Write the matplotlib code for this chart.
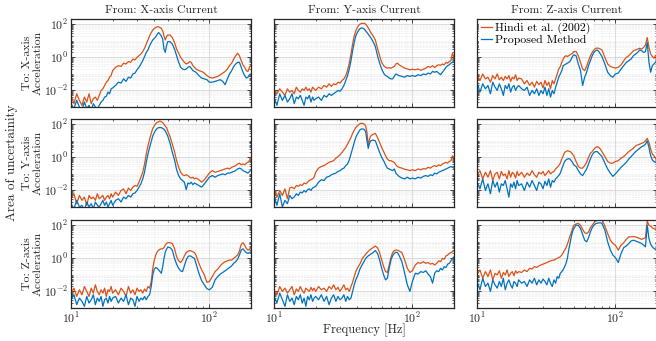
import numpy as np
import matplotlib

matplotlib.use("Agg")
import matplotlib.pyplot as plt
from matplotlib.ticker import FixedLocator, LogLocator, NullFormatter, LogFormatterMathtext

plt.rcParams["font.family"] = ["cmr10", "DejaVu Serif"]
plt.rcParams["mathtext.fontset"] = "cm"
plt.rcParams["axes.formatter.use_mathtext"] = True

ORANGE = "#D95319"
BLUE = "#0072BD"

# frequency grid [Hz]
freq_hz = [10, 10.5, 11, 11.5, 12, 12.5, 13, 13.5, 14, 14.5, 15, 15.5, 16, 16.5, 17, 17.5, 18, 18.5, 19, 19.5, 20,
           21, 22, 23, 24, 25, 26, 27, 28, 29, 30, 31, 32, 33, 34, 35, 36, 37, 38, 39, 40,
           41, 42, 43, 44, 45, 46, 47, 48, 49, 50,
           52, 54, 56, 58, 60, 62, 64, 66, 68, 70, 72, 74, 76, 78, 80,
           84, 88, 92, 96, 100,
           105, 110, 115, 120, 125, 130, 135, 140, 145, 150, 155, 160, 165, 170, 175, 180, 185, 190, 195, 200]

# log10 of the magnitude
# row: To X-axis acceleration
hindi_xx = [-2.3, -2.8, -2.2, -2.6, -2.9, -2.4, -2.7, -2.2, -2.8, -2.5, -2.4, -2.6, -2.3, -2.0, -1.9, -1.7, -1.5, -1.4, -1.2, -1.1, -0.8,
            -0.6, -0.5, -0.55, -0.35, -0.4, -0.25, -0.3, -0.1, -0.15, 0.0,
            0.1, 0.2, 0.35, 0.55, 0.8, 1.05, 1.3, 1.5, 1.65, 1.75,
            1.8, 1.85, 1.85, 1.8, 1.75, 1.6, 1.3, 1.05, 1.25, 1.35,
            1.35, 1.2, 0.9, 0.5, 0.25, 0.0, -0.15, -0.3, -0.4, -0.35, -0.25, -0.3, -0.5, -0.6, -0.7,
            -0.8, -0.85, -0.95, -1.1, -1.2,
            -1.25, -1.2, -1.15, -1.05, -0.95, -0.85, -0.7, -0.5, -0.35, -0.1, 0.1, 0.25, 0.1, -0.2, -0.45, -0.6, -0.8, -0.85, -0.6, -0.45]
proposed_xx = [-2.8, -3.1, -2.6, -3.0, -3.2, -2.7, -3.1, -2.9, -3.2, -2.8, -3.0, -3.1, -2.9, -2.7, -2.6, -2.4, -2.35, -2.1, -2.2, -1.9, -1.85,
               -1.7, -1.5, -1.55, -1.3, -1.45, -1.2, -1.25, -1.0, -0.95, -0.75,
               -0.6, -0.4, -0.2, 0.05, 0.3, 0.45, 0.7, 0.9, 1.05, 1.15,
               1.25, 1.4, 1.5, 1.4, 1.3, 1.1, 0.5, 0.3, 0.7, 0.95,
               0.95, 0.8, 0.5, 0.1, -0.3, -0.6, -0.7, -0.75, -0.7, -0.6, -0.55, -0.65, -0.8, -0.85, -0.9,
               -1.1, -1.25, -1.3, -1.35, -1.5,
               -1.5, -1.45, -1.4, -1.35, -1.45, -1.65, -1.3, -1.0, -0.8, -0.55, -0.4, -0.3, -0.3, -0.6, -0.9, -1.1, -1.25, -1.2, -1.05, -1.0]
hindi_yx = [-2.0, -2.2, -1.9, -2.1, -2.3, -1.9, -2.1, -2.0, -2.2, -1.8, -2.0, -2.1, -1.9, -2.0, -1.8, -2.0, -1.9, -2.1, -1.8, -1.9, -2.0,
            -1.8, -1.9, -1.7, -1.8, -1.6, -1.75, -1.6, -1.65, -1.5, -1.55,
            -1.4, -1.3, -1.1, -0.8, -0.35, 0.2, 0.8, 1.3, 1.6, 1.8,
            1.95, 2.02, 2.05, 2.06, 2.06, 2.0, 1.9, 1.78, 1.65, 1.5,
            1.3, 1.05, 0.55, 0.1, -0.3, -0.5, -0.6, -0.65, -0.62, -0.65, -0.6, -0.55, -0.4, -0.35, -0.45,
            -0.55, -0.65, -0.7, -0.75, -0.72,
            -0.75, -0.7, -0.78, -0.72, -0.65, -0.55, -0.6, -0.5, -0.62, -0.5, -0.45, -0.48, -0.4, -0.45, -0.3, -0.35, -0.25, -0.2, 0.25, 0.0]
proposed_yx = [-2.4, -2.9, -2.2, -2.6, -2.3, -2.7, -2.5, -2.2, -2.8, -2.4, -2.5, -2.3, -2.6, -2.9, -2.4, -2.5, -2.3, -2.7, -2.4, -2.6, -2.5,
               -2.4, -2.6, -2.3, -2.4, -2.2, -2.3, -2.2, -2.1, -2.0, -2.05,
               -1.9, -1.7, -1.4, -1.1, -0.7, -0.2, 0.4, 0.9, 1.3, 1.5,
               1.65, 1.75, 1.78, 1.76, 1.7, 1.6, 1.5, 1.4, 1.3, 1.2,
               0.95, 0.66, 0.1, -0.35, -0.7, -0.95, -1.1, -1.15, -1.25, -1.3, -1.3, -1.15, -1.0, -1.05, -1.1,
               -1.15, -1.2, -1.1, -1.15, -1.1,
               -1.15, -1.05, -1.1, -1.0, -1.05, -0.95, -1.0, -0.85, -0.9, -0.85, -0.95, -1.05, -0.9, -0.75, -0.6, -0.5, -0.45, -0.35, -0.3, -0.25]
hindi_zx = [-1.1, -1.4, -1.0, -1.3, -1.2, -1.5, -1.1, -1.3, -1.0, -1.35, -1.2, -1.4, -1.15, -1.3, -1.1, -1.45, -1.2, -1.3, -1.05, -1.4, -1.25,
            -1.3, -1.6, -1.4, -1.7, -1.5, -1.8, -1.45, -1.65, -1.5, -1.85,
            -1.4, -1.7, -1.5, -1.9, -1.4, -1.6, -1.3, -1.0, -0.7, -0.55,
            -0.3, -0.1, 0.05, 0.1, 0.05, 0.1, 0.15, 0.2, 0.25, 0.35,
            0.36, 0.1, -0.3, -0.7, -0.8, -0.55, -0.2, 0.1, 0.3, 0.45, 0.55, 0.56, 0.55, 0.5, 0.45,
            0.0, -0.4, -0.55, -0.6, -0.65,
            -0.6, -0.45, -0.2, 0.0, 0.1, 0.25, 0.4, 0.45, 0.5, 0.55, 0.5, 0.6, 0.75, 1.2, 0.6, 0.2, 0.05, -0.05, 0.1, 0.2]
proposed_zx = [-1.5, -2.1, -1.6, -1.9, -1.7, -2.2, -1.5, -1.8, -2.0, -1.6, -1.9, -2.3, -1.7, -1.9, -1.6, -2.1, -1.8, -1.7, -2.0, -1.8, -1.7,
               -1.9, -2.0, -1.8, -2.3, -2.0, -2.2, -1.9, -2.3, -2.0, -2.2,
               -1.8, -2.3, -1.9, -2.4, -2.0, -2.2, -1.8, -1.5, -1.2, -1.0,
               -0.8, -0.5, -0.45, -0.4, -0.35, -0.3, -0.25, -0.1, 0.05, 0.15,
               0.1, -0.4, -0.8, -1.7, -1.2, -0.9, -0.5, -0.2, 0.1, 0.3, 0.4, 0.45, 0.35, 0.2, 0.05,
               -0.4, -0.9, -1.1, -1.2, -1.0,
               -0.95, -0.7, -0.5, -0.3, -0.2, -0.1, 0.1, 0.2, 0.3, 0.45, 0.4, 0.3, 0.35, 0.9, -0.3, -0.9, -0.5, -0.4, -0.3, -0.2]

# row: To Y-axis acceleration
hindi_xy = [-2.5, -2.2, -2.8, -2.3, -2.6, -2.4, -2.9, -2.3, -2.5, -2.4, -2.6, -2.2, -2.5, -2.4, -2.3, -2.6, -2.4, -2.3, -2.5, -2.2, -2.4,
            -2.1, -2.3, -2.0, -1.9, -2.2, -1.85, -2.0, -1.8, -1.7, -1.75,
            -1.5, -1.2, -0.9, -0.4, 0.2, 0.7, 1.1, 1.45, 1.75, 1.9,
            2.05, 2.12, 2.15, 2.2, 2.15, 2.1, 2.0, 1.9, 1.8, 1.6,
            1.25, 0.8, 0.35, -0.2, -0.6, -0.9, -1.05, -1.1, -1.05, -1.1, -1.2, -1.25, -1.2, -1.3, -1.25,
            -1.35, -1.5, -1.35, -1.15, -0.95,
            -0.8, -0.9, -0.85, -0.8, -0.75, -0.7, -0.65, -0.7, -0.6, -0.55, -0.5, -0.4, -0.35, -0.45, -0.4, -0.45, -0.35, -0.3, -0.2, -0.05]
proposed_xy = [-2.8, -3.1, -2.6, -3.0, -2.9, -3.2, -2.7, -3.0, -2.8, -3.1, -2.7, -2.9, -3.0, -2.8, -2.6, -2.9, -2.7, -3.0, -2.8, -2.6, -2.9,
               -2.6, -2.5, -2.7, -2.4, -2.5, -2.3, -2.4, -2.2, -2.15, -2.0,
               -1.8, -1.6, -1.3, -0.9, -0.3, 0.2, 0.6, 0.95, 1.3, 1.5,
               1.65, 1.75, 1.8, 1.8, 1.8, 1.75, 1.7, 1.6, 1.45, 1.3,
               0.85, 0.3, -0.15, -0.75, -1.1, -1.3, -1.4, -1.5, -1.95, -1.55, -1.6, -1.5, -1.65, -1.55, -1.6,
               -1.7, -1.8, -1.6, -1.4, -1.2,
               -1.1, -1.2, -1.1, -1.05, -1.0, -1.05, -0.95, -0.95, -0.9, -0.85, -0.8, -0.7, -0.65, -0.7, -0.8, -0.85, -0.9, -0.95, -0.85, -0.75]
hindi_yy = [-1.9, -2.4, -2.0, -2.3, -1.9, -2.5, -1.85, -1.8, -1.9, -1.7, -1.75, -1.65, -1.7, -1.55, -1.6, -1.5, -1.4, -1.35, -1.3, -1.2, -0.9,
            -0.65, -0.55, -0.5, -0.4, -0.3, -0.25, -0.2, -0.05, 0.05, 0.15,
            0.3, 0.45, 0.6, 0.8, 1.0, 1.2, 1.45, 1.65, 1.8, 1.9,
            1.98, 2.05, 2.06, 2.05, 2.0, 1.9, 1.5, 0.7, 1.1, 1.3,
            1.4, 1.45, 1.2, 0.9, 0.6, 0.35, 0.1, -0.1, -0.2, -0.2, -0.25, -0.3, -0.45, -0.55, -0.6,
            -0.65, -0.72, -0.75, -0.8, -0.75,
            -0.8, -0.7, -0.75, -0.68, -0.7, -0.6, -0.65, -0.55, -0.5, -0.55, -0.45, -0.5, -0.4, -0.35, -0.3, -0.35, -0.25, -0.2, 0.1, 0.0]
proposed_yy = [-2.3, -2.9, -2.2, -3.0, -2.6, -2.8, -2.3, -2.5, -2.4, -2.2, -2.3, -2.1, -2.15, -2.0, -2.1, -1.95, -1.9, -2.0, -1.85, -1.8, -1.75,
               -1.5, -1.35, -1.4, -1.2, -1.15, -1.05, -1.0, -0.95, -0.85, -0.8,
               -0.7, -0.65, -0.5, -0.4, -0.15, 0.2, 0.55, 0.9, 1.2, 1.4,
               1.55, 1.68, 1.72, 1.72, 1.68, 1.55, 1.0, 0.55, 0.85, 1.0,
               1.05, 1.0, 0.65, 0.3, 0.0, -0.2, -0.45, -0.65, -0.7, -0.75, -0.8, -0.7, -0.95, -1.05, -1.15,
               -1.25, -1.3, -1.2, -1.3, -1.25,
               -1.3, -1.2, -1.25, -1.15, -1.1, -1.15, -1.05, -1.1, -0.95, -1.0, -0.9, -0.85, -0.8, -0.75, -0.7, -0.65, -0.6, -0.55, -0.6, -0.65]
hindi_zy = [-1.1, -0.8, -1.3, -0.9, -1.2, -0.8, -1.4, -1.0, -0.9, -1.3, -0.85, -1.1, -1.0, -1.3, -0.8, -1.2, -0.9, -1.0, -1.25, -0.85, -1.1,
            -0.9, -1.2, -0.95, -1.1, -0.8, -1.05, -1.2, -0.9, -1.0, -0.85,
            -1.1, -0.95, -0.8, -1.0, -0.9, -0.85, -0.7, -0.6, -0.5, -0.35,
            -0.1, 0.1, 0.3, 0.35, 0.4, 0.38, 0.35, 0.3, 0.2, 0.1,
            -0.25, -0.55, -0.65, -0.65, -0.5, -0.3, 0.0, 0.25, 0.35, 0.5, 0.6, 0.65, 0.6, 0.5, 0.35,
            0.05, -0.25, -0.35, -0.35, -0.25,
            -0.2, -0.05, 0.05, 0.2, 0.35, 0.45, 0.55, 0.7, 0.75, 0.8, 0.85, 0.9, 1.0, 1.15, 0.9, 0.5, 0.2, 0.1, -0.05, -0.15]
proposed_zy = [-1.5, -1.9, -1.3, -2.0, -1.6, -2.2, -1.4, -1.8, -1.5, -2.1, -1.6, -1.7, -1.4, -1.9, -2.4, -1.6, -1.8, -1.5, -1.9, -1.4, -1.7,
               -1.6, -2.0, -1.5, -1.8, -1.4, -1.7, -2.0, -1.5, -1.6, -1.9,
               -1.45, -1.7, -1.3, -1.8, -1.4, -1.5, -1.3, -1.2, -1.1, -0.95,
               -0.7, -0.45, -0.25, -0.15, -0.1, -0.08, -0.1, -0.2, -0.3, -0.45,
               -0.55, -0.8, -1.0, -1.1, -0.9, -0.7, -0.4, -0.1, 0.15, 0.3, 0.35, 0.35, 0.25, 0.15, 0.05,
               -0.35, -0.7, -0.95, -1.15, -1.0,
               -0.8, -0.6, -0.45, -0.3, -0.1, 0.05, 0.2, 0.35, 0.45, 0.55, 0.65, 0.7, 0.8, 1.0, 0.6, 0.1, -0.15, -0.25, -0.3, -0.35]

# row: To Z-axis acceleration
hindi_xz = [-2.1, -1.8, -2.3, -1.9, -2.2, -1.7, -2.0, -2.3, -1.8, -2.1, -1.6, -2.0, -2.2, -1.9, -2.1, -1.8, -2.3, -1.9, -2.0, -1.7, -2.1,
            -1.9, -2.2, -1.8, -2.0, -2.3, -1.7, -2.1, -1.9, -2.2, -1.8,
            -2.0, -1.9, -2.1, -1.85, -2.0, -1.7, -1.8, -1.4, -0.6, -0.1,
            0.2, 0.4, 0.5, 0.55, 0.58, 0.58, 0.65, 0.8, 0.9, 0.95,
            0.95, 0.9, 0.6, 0.1, -0.15, -0.25, -0.1, 0.15, 0.35, 0.42, 0.47, 0.45, 0.4, 0.35, 0.2,
            -0.3, -0.7, -1.0, -1.45, -1.4,
            -1.1, -0.8, -0.65, -0.45, -0.3, -0.2, -0.15, -0.1, -0.1, 0.0, 0.1, 0.2, 0.45, 0.85, 0.95, 0.8, 0.6, 0.5, 0.55, 0.6]
proposed_xz = [-2.5, -2.2, -2.8, -2.4, -2.6, -2.9, -2.3, -2.7, -2.5, -2.2, -2.8, -2.4, -2.6, -2.3, -2.9, -2.5, -2.4, -2.7, -2.3, -2.6, -2.4,
               -2.3, -2.7, -2.4, -2.6, -2.2, -2.8, -2.4, -2.5, -2.9, -2.3,
               -2.6, -2.4, -2.5, -2.3, -2.5, -2.3, -2.2, -1.7, -1.0, -0.65,
               -0.55, -0.6, -0.7, -0.8, -0.9, -0.5, 0.0, 0.37, 0.55, 0.68,
               0.65, 0.5, 0.0, -0.35, -0.6, -0.75, -0.8, -0.45, -0.1, 0.1, 0.16, 0.12, 0.05, 0.0, -0.3,
               -0.9, -1.35, -1.6, -1.83, -1.9,
               -1.75, -1.3, -1.1, -0.95, -0.85, -0.75, -0.65, -0.55, -0.45, -0.3, -0.2, -0.05, 0.2, 0.5, 0.58, 0.45, 0.35, 0.3, 0.35, 0.4]
hindi_yz = [-1.9, -2.2, -1.7, -2.0, -1.8, -2.1, -1.9, -1.7, -2.2, -1.85, -2.0, -1.7, -1.95, -2.1, -1.8, -1.9, -2.0, -1.75, -1.95, -1.8, -2.0,
            -1.7, -1.9, -1.8, -2.0, -1.7, -1.85, -1.6, -1.9, -1.75, -2.0,
            -1.8, -1.6, -1.9, -1.8, -2.0, -1.7, -1.45, -1.1, -0.8, -0.6,
            -0.45, -0.3, -0.1, 0.05, 0.15, 0.25, 0.35, 0.42, 0.5, 0.55,
            0.65, 0.75, 0.65, 0.35, -0.1, -0.5, -0.8, -0.85, -0.4, 0.05, 0.35, 0.47, 0.5, 0.5, 0.45,
            0.35, -0.1, -0.6, -0.85, -0.75,
            -0.4, -0.25, -0.3, -0.2, -0.3, -0.25, -0.35, -0.3, -0.4, -0.3, -0.15, -0.2, 0.0, -0.05, 0.15, 0.2, 0.3, 0.35, 0.4, 0.45]
proposed_yz = [-2.3, -2.7, -2.1, -2.5, -2.9, -2.2, -2.6, -2.4, -2.8, -2.3, -2.5, -2.2, -2.7, -2.4, -2.9, -2.3, -2.5, -2.2, -2.6, -2.4, -2.3,
               -2.5, -2.2, -2.6, -2.3, -2.8, -2.4, -2.2, -2.6, -2.3, -2.5,
               -2.4, -2.2, -2.6, -2.3, -2.5, -2.4, -2.0, -1.6, -1.3, -1.1,
               -0.85, -0.6, -0.45, -0.3, -0.15, 0.0, 0.08, 0.15, 0.2, 0.26,
               0.35, 0.47, 0.3, -0.1, -0.6, -1.0, -1.3, -1.2, -0.6, -0.1, 0.16, 0.3, 0.37, 0.35, 0.2,
               -0.2, -0.9, -1.6, -2.0, -1.4,
               -0.9, -0.95, -0.8, -0.85, -0.75, -0.95, -1.1, -1.5, -0.9, -0.75, -0.8, -0.6, -0.7, -0.5, -0.55, -0.35, -0.3, -0.15, 0.0, 0.1]
hindi_zz = [-1.0, -0.7, -1.2, -0.8, -1.1, -0.7, -1.3, -0.9, -1.0, -0.75, -1.2, -0.85, -1.0, -0.7, -1.1, -0.9, -0.8, -1.05, -0.75, -0.9, -0.8,
            -0.85, -0.7, -0.8, -0.6, -0.65, -0.5, -0.55, -0.45, -0.4, -0.35,
            -0.3, -0.25, -0.2, -0.15, -0.12, -0.1, -0.05, 0.0, 0.05, 0.1,
            0.2, 0.35, 0.5, 0.65, 0.85, 1.1, 1.35, 1.55, 1.8, 2.0,
            2.08, 2.12, 2.0, 1.75, 1.55, 1.5, 1.6, 1.85, 2.0, 2.15, 2.25, 2.3, 2.32, 2.35, 2.35,
            1.95, 1.5, 1.1, 0.9, 0.8,
            0.5, 0.8, 0.95, 1.15, 1.3, 1.3, 1.32, 1.3, 1.25, 1.2, 1.15, 1.2, 1.25, 2.25, 2.0, 1.95, 1.85, 1.8, 1.75, 1.7]
proposed_zz = [-1.4, -1.9, -1.2, -1.7, -1.5, -2.0, -1.3, -1.6, -1.8, -1.4, -1.7, -1.2, -1.9, -1.5, -1.3, -1.6, -1.8, -1.4, -1.5, -1.7, -1.3,
               -1.5, -1.4, -1.7, -1.3, -1.5, -1.2, -1.6, -1.3, -1.5, -1.25,
               -1.4, -1.6, -1.2, -1.5, -1.7, -1.3, -1.5, -1.1, -1.2, -0.9,
               -0.8, -0.68, -0.5, -0.3, 0.0, 0.5, 0.9, 1.3, 1.6, 1.8,
               2.0, 2.0, 1.8, 1.45, 1.1, 1.0, 1.25, 1.6, 1.85, 2.0, 2.1, 2.12, 2.15, 2.15, 2.12,
               1.7, 1.0, 0.5, 0.2, 0.05,
               -0.25, 0.3, 0.65, 0.75, 0.9, 1.05, 1.1, 1.05, 1.0, 0.95, 0.9, 0.8, 0.7, 2.0, 1.2, 0.85, 0.7, 0.6, 0.55, 0.5]

col_titles = ["From: X-axis Current", "From: Y-axis Current", "From: Z-axis Current"]
row_labels = ["To: X-axis\nAcceleration", "To: Y-axis\nAcceleration", "To: Z-axis\nAcceleration"]

panels = [
    [(hindi_xx, proposed_xx), (hindi_yx, proposed_yx), (hindi_zx, proposed_zx)],
    [(hindi_xy, proposed_xy), (hindi_yy, proposed_yy), (hindi_zy, proposed_zy)],
    [(hindi_xz, proposed_xz), (hindi_yz, proposed_yz), (hindi_zz, proposed_zz)],
]

W, H = 656, 341
fig = plt.figure(figsize=(W / 100, H / 100), dpi=100)

col_left = [71, 274, 477]
row_top = [19, 119, 220]
ax_w, ax_h = 180, 88
f = np.array(freq_hz)

for r in range(3):
    for c in range(3):
        ax = fig.add_axes([col_left[c] / W, 1 - (row_top[r] + ax_h) / H, ax_w / W, ax_h / H])
        hindi, proposed = panels[r][c]
        assert len(hindi) == len(f) and len(proposed) == len(f)
        ax.plot(f, 10 ** np.array(hindi), color=ORANGE, lw=0.9, label="Hindi et al. (2002)")
        ax.plot(f, 10 ** np.array(proposed), color=BLUE, lw=0.9, label="Proposed Method")
        ax.set_xscale("log")
        ax.set_yscale("log")
        ax.set_xlim(10, 200)
        ax.set_ylim(1e-3, 10 ** 2.32)

        ax.xaxis.set_major_locator(FixedLocator([10, 100]))
        ax.xaxis.set_minor_locator(LogLocator(base=10, subs=np.arange(2, 10), numticks=20))
        ax.yaxis.set_major_locator(FixedLocator([1e-2, 1, 1e2]))
        ax.yaxis.set_minor_locator(LogLocator(base=10, subs=np.arange(1, 10), numticks=20))
        ax.xaxis.set_minor_formatter(NullFormatter())
        ax.yaxis.set_minor_formatter(NullFormatter())
        ax.xaxis.set_major_formatter(LogFormatterMathtext())
        ax.yaxis.set_major_formatter(LogFormatterMathtext())

        ax.grid(True, which="major", color="#cfcfcf", lw=0.5)
        ax.grid(True, which="minor", color="#dedede", lw=0.4, ls=":")
        ax.set_axisbelow(True)
        ax.tick_params(which="both", direction="in", top=True, right=True, colors="#262626", labelsize=8.5, pad=2)
        ax.tick_params(which="major", length=3, width=0.6)
        ax.tick_params(which="minor", length=1.5, width=0.5)
        for sp in ax.spines.values():
            sp.set_linewidth(0.9)
            sp.set_color("#262626")

        if r < 2:
            ax.tick_params(labelbottom=False)
        if c > 0:
            ax.tick_params(labelleft=False)
        else:
            ax.set_ylabel(row_labels[r], fontsize=8.5, color="#262626", labelpad=1, linespacing=1.15)
        if r == 0:
            ax.set_title(col_titles[c], fontsize=8.5, color="#262626", pad=4)
        if r == 0 and c == 2:
            ax.legend(loc="upper left", fontsize=8.5, handlelength=1.0, handletextpad=0.2, borderpad=0.15,
                      borderaxespad=0.15, labelspacing=0.1, frameon=True, edgecolor="white", fancybox=False,
                      framealpha=1.0)

fig.text(12 / W, 1 - 163 / H, "Area of uncertainity", rotation=90, ha="center", va="center",
         fontsize=9.5, color="#262626")
fig.text(364 / W, 1 - 330 / H, "Frequency [Hz]", ha="center", va="center", fontsize=9, color="#262626")

fig.savefig("out.png", dpi=100)
